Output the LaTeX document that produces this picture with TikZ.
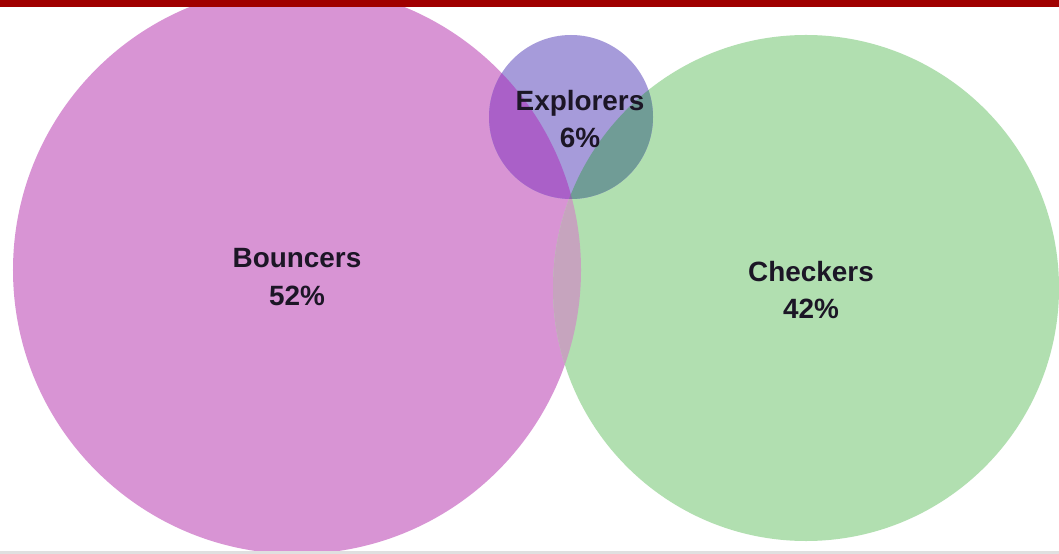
\documentclass[tikz,border=0pt]{standalone}
\usepackage{fontspec}
\setmainfont{Liberation Sans}
\definecolor{pinkc}{RGB}{216,148,212}
\definecolor{greenc}{RGB}{177,223,176}
\definecolor{purplec}{RGB}{166,155,218}
\definecolor{pinkpurple}{RGB}{170,96,200}
\definecolor{greenpurple}{RGB}{112,156,150}
\definecolor{pinkgreen}{RGB}{198,164,190}
\definecolor{allthree}{RGB}{140,110,170}
\definecolor{barred}{RGB}{160,0,0}
\definecolor{txt}{RGB}{28,22,38}
\begin{document}
\begin{tikzpicture}[x=1bp,y=-1bp,
  lbl/.style={font=\bfseries\fontsize{28}{38}\selectfont, align=center, text=txt, inner sep=0pt}]
\useasboundingbox (0,0) rectangle (1059,554);
\clip (0,0) rectangle (1059,554);
\fill[white] (0,0) rectangle (1059,554);
% circles
\coordinate (bc) at (297,270);
\coordinate (cc) at (806,288);
\coordinate (ec) at (571,117);
\fill[pinkc] (bc) circle[radius=284bp];
\fill[greenc] (cc) circle[radius=253bp];
\fill[purplec] (ec) circle[radius=82bp];
\begin{scope}
  \clip (bc) circle[radius=284bp];
  \fill[pinkgreen] (cc) circle[radius=253bp];
  \fill[pinkpurple] (ec) circle[radius=82bp];
\end{scope}
\begin{scope}
  \clip (cc) circle[radius=253bp];
  \fill[greenpurple] (ec) circle[radius=82bp];
\end{scope}
\begin{scope}
  \clip (bc) circle[radius=284bp];
  \clip (cc) circle[radius=253bp];
  \fill[allthree] (ec) circle[radius=82bp];
\end{scope}
% frame lines
\fill[barred] (0,0) rectangle (1059,7);
\fill[black!12] (0,551) rectangle (1059,554);
% labels
\node[lbl] (bouncers) at (297,277) {Bouncers\\52\%};
\node[lbl] (checkers) at (811,290) {Checkers\\42\%};
\node[lbl] (explorers) at (580,119) {Explorers\\6\%};
\end{tikzpicture}
\end{document}
